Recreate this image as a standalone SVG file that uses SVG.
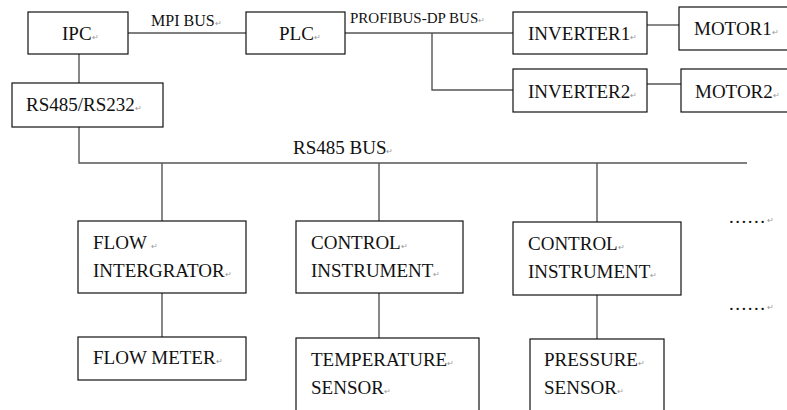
<svg xmlns="http://www.w3.org/2000/svg" width="787" height="410" viewBox="0 0 787 410">
<style>
.box{fill:#fff;stroke:#111;stroke-width:1.2}
.ln{fill:none;stroke:#555;stroke-width:1.4}
.t{font-size:19px;fill:#111}
.lbl{font-size:16px;fill:#111}
.lbl2{font-size:15px;fill:#111}
.rm{font-size:8px;fill:#999}
</style>
<rect width="787" height="410" fill="#fff"/>
<g id="connectors">
<path class="ln" d="M128 33H246"/>
<path class="ln" d="M345 33H513"/>
<path class="ln" d="M432 33V90H513"/>
<path class="ln" d="M647 25H679"/>
<path class="ln" d="M647 84H681"/>
<path class="ln" d="M79 54V83"/>
<path class="ln" d="M79 127V163H747"/>
<path class="ln" d="M162 163V221"/>
<path class="ln" d="M379 163V221"/>
<path class="ln" d="M597 163V222"/>
<path class="ln" d="M162 293V337"/>
<path class="ln" d="M379 293V338"/>
<path class="ln" d="M597 295V339"/>
</g>
<g font-family="Liberation Serif, Times New Roman, serif">
<g id="labels">
<text class="lbl" x="151" y="26">MPI BUS<tspan class="rm">↵</tspan></text>
<text class="lbl2" x="350" y="23">PROFIBUS-DP BUS<tspan class="rm">↵</tspan></text>
<text class="t" x="293" y="154">RS485 BUS<tspan class="rm">↵</tspan></text>
</g>
<g id="ipc"><rect class="box" x="28" y="12" width="100" height="42"/><text class="t" x="62" y="40">IPC<tspan class="rm">↵</tspan></text></g>
<g id="plc"><rect class="box" x="246" y="12" width="99" height="42"/><text class="t" x="279" y="40">PLC<tspan class="rm">↵</tspan></text></g>
<g id="inverter1"><rect class="box" x="513" y="12" width="134" height="42"/><text class="t" x="528" y="40">INVERTER1<tspan class="rm">↵</tspan></text></g>
<g id="motor1"><rect class="box" x="679" y="7" width="112" height="43"/><text class="t" x="694" y="35">MOTOR1<tspan class="rm">↵</tspan></text></g>
<g id="inverter2"><rect class="box" x="513" y="69" width="134" height="43"/><text class="t" x="528" y="98">INVERTER2<tspan class="rm">↵</tspan></text></g>
<g id="motor2"><rect class="box" x="681" y="69" width="110" height="43"/><text class="t" x="695" y="98">MOTOR2<tspan class="rm">↵</tspan></text></g>
<g id="rs485rs232"><rect class="box" x="12" y="83" width="151" height="44"/><text class="t" x="26" y="111">RS485/RS232<tspan class="rm">↵</tspan></text></g>
<g id="flowintegrator"><rect class="box" x="78" y="221" width="168" height="72"/><text class="t" x="93" y="249">FLOW <tspan class="rm">↵</tspan></text><text class="t" x="93" y="277">INTERGRATOR<tspan class="rm">↵</tspan></text></g>
<g id="control1"><rect class="box" x="296" y="221" width="167" height="72"/><text class="t" x="311" y="249">CONTROL<tspan class="rm">↵</tspan></text><text class="t" x="311" y="277">INSTRUMENT<tspan class="rm">↵</tspan></text></g>
<g id="control2"><rect class="box" x="513" y="222" width="168" height="73"/><text class="t" x="528" y="250">CONTROL<tspan class="rm">↵</tspan></text><text class="t" x="528" y="278">INSTRUMENT<tspan class="rm">↵</tspan></text></g>
<g id="flowmeter"><rect class="box" x="78" y="337" width="168" height="43"/><text class="t" x="93" y="364">FLOW METER<tspan class="rm">↵</tspan></text></g>
<g id="tempsensor"><rect class="box" x="296" y="338" width="183" height="80"/><text class="t" x="311" y="366">TEMPERATURE<tspan class="rm">↵</tspan></text><text class="t" x="311" y="394">SENSOR<tspan class="rm">↵</tspan></text></g>
<g id="pressuresensor"><rect class="box" x="530" y="339" width="134" height="80"/><text class="t" x="544" y="366">PRESSURE<tspan class="rm">↵</tspan></text><text class="t" x="544" y="394">SENSOR<tspan class="rm">↵</tspan></text></g>
<g id="more1"><text class="t" x="729" y="223" letter-spacing="1.5">......<tspan class="rm">↵</tspan></text></g>
<g id="more2"><text class="t" x="729" y="310" letter-spacing="1.5">......<tspan class="rm">↵</tspan></text></g>
</g>
</svg>
